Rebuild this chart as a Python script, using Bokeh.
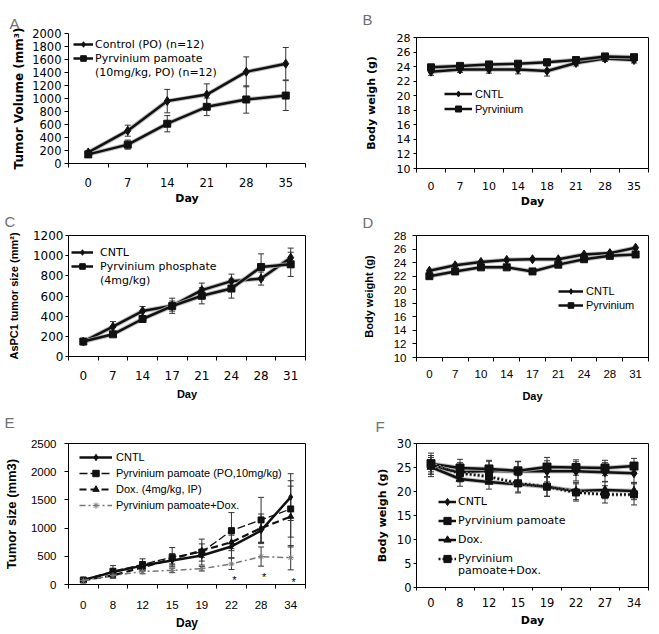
from bokeh.plotting import figure
from bokeh.models import (Range1d, FixedTicker, Whisker, TeeHead, ColumnDataSource,
                          Legend, LegendItem)
from bokeh.layouts import row, column
from bokeh.core.properties import value
from bokeh.embed import file_html
from bokeh.resources import INLINE

VERD = "DejaVu Sans"
ARIAL = "Liberation Sans"

# ---------------- data ----------------
# A: tumor volume
a_days = ["0", "7", "14", "21", "28", "35"]
a_ctrl = [170, 505, 960, 1060, 1410, 1535]
a_ctrl_err = [25, 85, 180, 165, 230, 250]
a_pyr = [140, 290, 612, 872, 985, 1045]
a_pyr_err = [20, 70, 125, 135, 210, 230]
a_yticks = [0, 200, 400, 600, 800, 1000, 1200, 1400, 1600, 1800, 2000]

# B: body weight
b_days = ["0", "7", "10", "14", "18", "21", "28", "35"]
b_cntl = [23.3, 23.6, 23.6, 23.6, 23.4, 24.5, 25.1, 24.9]
b_cntl_err = [0.5, 0.4, 0.5, 0.6, 0.7, 0.4, 0.4, 0.4]
b_pyr = [23.9, 24.1, 24.3, 24.4, 24.6, 24.9, 25.4, 25.3]
b_pyr_err = [0.3, 0.3, 0.3, 0.3, 0.4, 0.3, 0.3, 0.3]
b_yticks = [10, 12, 14, 16, 18, 20, 22, 24, 26, 28]

# C: AsPC1 tumor size
c_days = ["0", "7", "14", "17", "21", "24", "28", "31"]
c_cntl = [148, 296, 451, 503, 658, 747, 773, 980]
c_cntl_err = [15, 50, 45, 75, 70, 70, 65, 95]
c_pyr = [148, 220, 372, 500, 602, 674, 888, 914]
c_pyr_err = [15, 20, 25, 50, 80, 95, 130, 120]
c_yticks = [0, 200, 400, 600, 800, 1000, 1200]

# D: body weight
d_days = ["0", "7", "10", "14", "17", "21", "24", "28", "31"]
d_cntl = [22.8, 23.6, 24.1, 24.4, 24.5, 24.5, 25.2, 25.4, 26.2]
d_pyr = [22.0, 22.7, 23.3, 23.3, 22.7, 23.7, 24.5, 25.0, 25.2]
d_yticks = [10, 12, 14, 16, 18, 20, 22, 24, 26, 28]

# E: tumor size
e_days = ["0", "8", "12", "15", "19", "22", "28", "34"]
e_cntl = [80, 220, 335, 425, 515, 675, 955, 1550]
e_cntl_err = [15, 60, 60, 80, 100, 200, 230, 415]
e_pyr = [80, 235, 355, 485, 575, 955, 1145, 1340]
e_pyr_err = [15, 100, 100, 170, 230, 320, 400, 500]
e_dox = [75, 160, 305, 455, 600, 750, 1000, 1205]
e_dox_err = [15, 50, 60, 90, 120, 150, 250, 540]
e_pd = [70, 160, 230, 250, 280, 365, 495, 475]
e_pd_err = [15, 40, 40, 40, 40, 100, 170, 215]
e_star_days = ["22", "28", "34"]
e_star_y = [85, 140, 40]
e_yticks = [0, 500, 1000, 1500, 2000, 2500]

# F: body weight
f_days = ["0", "8", "12", "15", "19", "22", "27", "34"]
f_cntl = [25.3, 24.0, 24.3, 24.2, 24.2, 24.2, 24.0, 23.8]
f_cntl_err = [2.2, 2.0, 2.0, 2.0, 2.2, 2.0, 2.0, 2.0]
f_pyr = [25.8, 24.9, 24.7, 24.3, 25.1, 25.0, 24.9, 25.3]
f_pyr_err = [2.2, 1.8, 1.8, 2.0, 2.0, 1.6, 1.6, 1.6]
f_dox = [25.1, 22.6, 22.0, 21.5, 21.0, 20.1, 20.3, 20.1]
f_dox_err = [1.5, 1.5, 1.5, 1.8, 2.0, 1.8, 1.8, 1.8]
f_pd = [25.6, 23.8, 23.1, 21.7, 21.0, 19.8, 19.4, 19.4]
f_pd_err = [1.5, 1.5, 1.5, 1.8, 2.0, 1.8, 1.8, 2.2]
f_yticks = [0, 5, 10, 15, 20, 25, 30]


# ---------------- helpers ----------------
def make_fig(days, ylo, yhi, yticks, W, H, L, R, T, B, outline,
             tfont, tsize, ylabel, ylfont, ylsize, ylstd, ytick_out, ystd,
             xstd, xlfont, xlsize, xlstd, minor_out=4):
    n = len(days)
    p = figure(width=W, height=H, x_range=Range1d(-0.5, n - 0.5),
               y_range=Range1d(ylo, yhi), toolbar_location=None,
               output_backend="svg", min_border_left=L, min_border_right=R,
               min_border_top=T, min_border_bottom=B,
               background_fill_color="white", border_fill_color="white")
    p.outline_line_color = "black" if outline else None
    p.outline_line_width = 1
    p.xgrid.visible = False
    p.ygrid.visible = False
    xa = p.xaxis[0]
    xa.ticker = FixedTicker(ticks=list(range(n)),
                            minor_ticks=[i - 0.5 for i in range(n + 1)])
    xa.major_label_overrides = {i: d for i, d in enumerate(days)}
    xa.major_tick_out = 0
    xa.major_tick_in = 0
    xa.minor_tick_out = minor_out
    xa.minor_tick_in = 0
    xa.minor_tick_line_color = "black"
    xa.major_label_standoff = xstd
    xa.major_label_text_font = tfont
    xa.major_label_text_font_size = tsize
    xa.major_label_text_color = "black"
    xa.axis_line_color = "black"
    xa.axis_label = "Day"
    xa.axis_label_text_font = xlfont
    xa.axis_label_text_font_size = xlsize
    xa.axis_label_text_font_style = "bold"
    xa.axis_label_text_color = "black"
    xa.axis_label_standoff = xlstd
    ya = p.yaxis[0]
    ya.ticker = FixedTicker(ticks=yticks, minor_ticks=[])
    ya.major_tick_out = ytick_out
    ya.major_tick_in = 0
    ya.minor_tick_out = 0
    ya.minor_tick_in = 0
    ya.major_tick_line_color = "black"
    ya.major_label_standoff = ystd
    ya.major_label_text_font = tfont
    ya.major_label_text_font_size = tsize
    ya.major_label_text_color = "black"
    ya.axis_line_color = "black"
    ya.axis_label = ylabel
    ya.axis_label_text_font = ylfont
    ya.axis_label_text_font_size = ylsize
    ya.axis_label_text_font_style = "bold"
    ya.axis_label_text_color = "black"
    ya.axis_label_standoff = ylstd
    return p


def series(p, vals, errs, marker, msize, lw=2.5, dash="solid", color="#111111",
           err_color="#333333", halo=True):
    n = len(vals)
    data = dict(x=list(range(n)), y=vals)
    if errs is not None:
        data["upper"] = [v + e for v, e in zip(vals, errs)]
        data["lower"] = [v - e for v, e in zip(vals, errs)]
    src = ColumnDataSource(data)
    if errs is not None:
        p.add_layout(Whisker(source=src, base="x", upper="upper", lower="lower",
                             line_color=err_color, line_width=1,
                             upper_head=TeeHead(size=6, line_color=err_color, line_width=1),
                             lower_head=TeeHead(size=6, line_color=err_color, line_width=1)))
    if halo:
        p.line("x", "y", source=src, line_width=lw + 2, line_color="#b0b0b0",
               line_alpha=0.8, line_dash=dash)
    ln = p.line("x", "y", source=src, line_width=lw, line_color=color, line_dash=dash)
    sc = p.scatter("x", "y", source=src, marker=marker, size=msize,
                   fill_color=color, line_color=color)
    return [ln, sc]


def add_legend(p, entries, x, top, row_h, glyph_w, standoff, frame_h, font, size):
    items = [LegendItem(label=t, renderers=rs) for t, rs in entries]
    height = len(items) * row_h
    leg = Legend(items=items, location=(x, frame_h - top - height),
                 glyph_width=glyph_w, glyph_height=row_h, label_height=row_h,
                 spacing=0, padding=0, margin=0, label_standoff=standoff,
                 border_line_color=None, background_fill_alpha=0,
                 label_text_font=font, label_text_font_size=size,
                 label_text_color="black")
    p.add_layout(leg)


def letter(p, text, offset, standoff):
    t = p.title
    t.text = text
    t.align = "left"
    t.offset = offset
    t.standoff = standoff
    t.vertical_align = "top"
    t.text_font = ARIAL
    t.text_font_size = "15px"
    t.text_font_style = "normal"
    t.text_color = "#707070"


# ---------------- panel A ----------------
pA = make_fig(a_days, 0, 2000, a_yticks, 330, 207, 60, 25, 33, 38, False,
              VERD, "11.5px", "Tumor Volume (mm³)", VERD, "12px", 3, 4, 3,
              10, VERD, "11px", 2)
rA1 = series(pA, a_ctrl, a_ctrl_err, "diamond", 9)
rA2 = series(pA, a_pyr, a_pyr_err, "square", 7)
add_legend(pA, [("Control (PO) (n=12)", rA1), ("Pyrvinium pamoate", rA2),
                ("(10mg/kg, PO) (n=12)", [])],
           5, 10, 14, 20, 2, 136, VERD, "11px")
letter(pA, "A", -59, 0)

# ---------------- panel B ----------------
pB = make_fig(b_days, 10, 28, b_yticks, 329, 210, 82, 11, 37, 37, True,
              VERD, "11px", "Body weigh (g)", VERD, "11px", 16, 3, 3,
              9, VERD, "11px", 2)
rB1 = series(pB, b_cntl, b_cntl_err, "diamond", 9)
rB2 = series(pB, b_pyr, b_pyr_err, "square", 7)
add_legend(pB, [("CNTL", rB1), ("Pyrvinium", rB2)],
           28, 54, 15, 28, 3, 136, ARIAL, "11px")
letter(pB, "B", -54, 16)

# ---------------- panel C ----------------
pC = make_fig(c_days, 0, 1200, c_yticks, 330, 195, 65, 23, 28, 45, True,
              VERD, "12px", "AsPC1 tumor size (mm²)", ARIAL, "11px", 10, 3, 2,
              10, ARIAL, "11px", 5)
rC1 = series(pC, c_cntl, c_cntl_err, "diamond", 9)
rC2 = series(pC, c_pyr, c_pyr_err, "square", 7)
add_legend(pC, [("CNTL", rC1), ("Pyrvinium phosphate", rC2), ("(4mg/kg)", [])],
           3, 11, 14, 22, 7, 122, VERD, "11px")
letter(pC, "C", -64, 8)

# ---------------- panel D ----------------
pD = make_fig(d_days, 10, 28, d_yticks, 329, 200, 86, 4, 25, 53, True,
              ARIAL, "11.5px", "Body weight (g)", ARIAL, "11px", 16, 4, 6,
              8, ARIAL, "11px", 9)
rD1 = series(pD, d_cntl, None, "diamond", 9)
rD2 = series(pD, d_pyr, None, "square", 7)
add_legend(pD, [("CNTL", rD1), ("Pyrvinium", rD2)],
           142, 49, 14, 25, 3, 122, ARIAL, "11px")
letter(pD, "D", -54, 6)

# ---------------- panel E ----------------
pE = make_fig(e_days, 0, 2500, e_yticks, 330, 232, 64, 22, 41, 50, True,
              ARIAL, "11.5px", "Tumor size (mm3)", ARIAL, "13px", 9, 4, 8,
              12, ARIAL, "12px", 4)
rE1 = series(pE, e_cntl, e_cntl_err, "diamond", 6, lw=2.5, halo=False)
rE2 = series(pE, e_pyr, e_pyr_err, "square", 6, lw=1.3, dash="8 3", halo=False)
rE3 = series(pE, e_dox, e_dox_err, "triangle", 6, lw=2.2, dash="7 4", halo=False)
rE4 = series(pE, e_pd, e_pd_err, "asterisk", 6, lw=1.5, dash="6 3 2 3",
             color="#777777", halo=False)
star_x = [e_days.index(d) for d in e_star_days]
pE.text(x=star_x, y=e_star_y, text=["*"] * len(star_x), x_offset=3,
        text_font=value(ARIAL), text_font_size="11px", text_color="black",
        text_align="center", text_baseline="middle")
add_legend(pE, [("CNTL", rE1), ("Pyrvinium pamoate (PO,10mg/kg)", rE2),
                ("Dox. (4mg/kg, IP)", rE3), ("Pyrvinium pamoate+Dox.", rE4)],
           11, 6, 16, 33, 4, 141, ARIAL, "11px")
letter(pE, "E", -64, 21)

# ---------------- panel F ----------------
pF = make_fig(f_days, 0, 30, f_yticks, 329, 224, 76, 11, 33, 47, True,
              VERD, "11.5px", "Body weigh (g)", VERD, "11px", 5, 3, 2,
              7, VERD, "11px", 4, minor_out=3)
rF1 = series(pF, f_cntl, f_cntl_err, "diamond", 9)
rF2 = series(pF, f_pyr, f_pyr_err, "square", 8)
rF3 = series(pF, f_dox, f_dox_err, "triangle", 8)
rF4 = series(pF, f_pd, f_pd_err, "square", 7, dash="2 2")
add_legend(pF, [("CNTL", rF1), ("Pyrvinium pamoate", rF2), ("Dox.", rF3),
                ("Pyrvinium", rF4)],
           22, 49, 19, 18, 2, 144, VERD, "11px")
add_legend(pF, [("pamoate+Dox.", [])], 22, 122, 12, 18, 2, 144, VERD, "11px")
letter(pF, "F", -41, 14)

layout = row(column(pA, pC, pE), column(pB, pD, pF))
open("out.html", "w").write(file_html(layout, INLINE))
